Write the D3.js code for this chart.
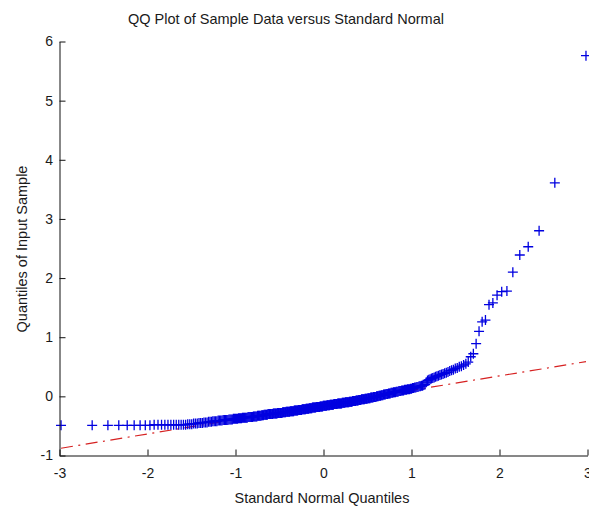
<!DOCTYPE html>
<html>
<head>
<meta charset="utf-8">
<script src="https://cdn.jsdelivr.net/npm/d3@7"></script>
<style>
  body { margin: 0; background: #fff; }
  text { font-family: "Liberation Sans", Arial, sans-serif; }
</style>
</head>
<body>
<svg width="589" height="510"></svg>
<script>
// sorted sample values (350 points)
var sample = [
  -0.49, -0.49, -0.49, -0.49, -0.49, -0.49, -0.49,
  -0.49, -0.49, -0.48, -0.48, -0.48,
  -0.48, -0.48, -0.48, -0.48, -0.48, -0.48, -0.48, -0.48,
  -0.48, -0.47, -0.47, -0.47,
  -0.46, -0.46, -0.46, -0.45, -0.45,
  -0.45, -0.44, -0.44, -0.44, -0.43,
  -0.43, -0.43, -0.42, -0.42, -0.42, -0.42, -0.41,
  -0.41, -0.41, -0.41, -0.40, -0.40, -0.40, -0.40,
  -0.40, -0.39, -0.39, -0.39, -0.39, -0.38, -0.38, -0.38,
  -0.38, -0.38, -0.37, -0.37, -0.37, -0.37, -0.36, -0.36, -0.36,
  -0.36, -0.36, -0.36, -0.35, -0.35, -0.35, -0.35, -0.35, -0.35, -0.34,
  -0.34, -0.34, -0.34, -0.34, -0.33, -0.33, -0.33, -0.33, -0.33, -0.32,
  -0.32, -0.32, -0.31, -0.31, -0.31, -0.31, -0.31, -0.30, -0.30, -0.30, -0.30,
  -0.30, -0.30, -0.30, -0.29, -0.29, -0.29, -0.29, -0.29, -0.29, -0.28, -0.28, -0.28,
  -0.28, -0.28, -0.28, -0.28, -0.27, -0.27, -0.27, -0.27, -0.27, -0.26, -0.26, -0.26, -0.26,
  -0.26, -0.26, -0.25, -0.25, -0.25, -0.25, -0.25, -0.25, -0.24, -0.24, -0.24, -0.24, -0.24,
  -0.24, -0.23, -0.23, -0.23, -0.23, -0.23, -0.23, -0.22, -0.22, -0.22, -0.22, -0.22, -0.22,
  -0.21, -0.21, -0.21, -0.21, -0.21, -0.20, -0.20, -0.20, -0.20, -0.20, -0.19, -0.19, -0.19, -0.19,
  -0.19, -0.19, -0.18, -0.18, -0.18, -0.18, -0.18, -0.18, -0.17, -0.17, -0.17, -0.17, -0.17, -0.16,
  -0.16, -0.16, -0.16, -0.16, -0.16, -0.15, -0.15, -0.15, -0.15, -0.15, -0.14, -0.14, -0.14, -0.14,
  -0.14, -0.14, -0.13, -0.13, -0.13, -0.13, -0.13, -0.13, -0.12, -0.12, -0.12, -0.12, -0.12, -0.12,
  -0.12, -0.11, -0.11, -0.11, -0.11, -0.11, -0.10, -0.10, -0.10, -0.10, -0.10, -0.10, -0.09,
  -0.09, -0.09, -0.09, -0.09, -0.08, -0.08, -0.08, -0.08, -0.08, -0.07, -0.07, -0.07, -0.07,
  -0.06, -0.06, -0.06, -0.06, -0.05, -0.05, -0.05, -0.05, -0.05, -0.04, -0.04, -0.04, -0.04,
  -0.03, -0.03, -0.03, -0.03, -0.02, -0.02, -0.02, -0.02, -0.01, -0.01, -0.01, -0.01,
  0.00, 0.00, 0.00, 0.01, 0.01, 0.01, 0.02, 0.02, 0.02, 0.03, 0.03,
  0.03, 0.04, 0.04, 0.04, 0.05, 0.05, 0.05, 0.06, 0.06, 0.06, 0.07,
  0.07, 0.07, 0.08, 0.08, 0.08, 0.09, 0.09, 0.09, 0.10, 0.10,
  0.10, 0.11, 0.11, 0.11, 0.12, 0.12, 0.12, 0.13, 0.13,
  0.14, 0.14, 0.15, 0.15, 0.16, 0.16, 0.17, 0.17,
  0.18, 0.18, 0.19, 0.20,
  0.24, 0.27, 0.28,
  0.29, 0.30, 0.31, 0.32, 0.33, 0.34,
  0.35, 0.36, 0.37, 0.38, 0.39, 0.40,
  0.41, 0.43, 0.44, 0.45, 0.47,
  0.48, 0.50, 0.51, 0.53, 0.55,
  0.58, 0.67, 0.72, 0.89, 1.10, 1.26, 1.29, 1.55, 1.58,
  1.71, 1.77, 1.78, 2.10, 2.39, 2.53, 2.80, 3.61, 5.76
];

var xTicks = [-3, -2, -1, 0, 1, 2, 3];
var yTicks = [-1, 0, 1, 2, 3, 4, 5, 6];

var titleText = "QQ Plot of Sample Data versus Standard Normal",
    xLabel = "Standard Normal Quantiles",
    yLabel = "Quantiles of Input Sample";

// inverse standard normal cdf (Acklam), gives the theoretical quantiles
function norminv(p) {
  var a = [-3.969683028665376e+01, 2.209460984245205e+02, -2.759285104469687e+02, 1.383577518672690e+02, -3.066479806614716e+01, 2.506628277459239e+00],
      b = [-5.447609879822406e+01, 1.615858368580409e+02, -1.556989798598866e+02, 6.680131188771972e+01, -1.328068155288572e+01],
      c = [-7.784894002430293e-03, -3.223964580411365e-01, -2.400758277161838e+00, -2.549732539343734e+00, 4.374664141464968e+00, 2.938163982698783e+00],
      d = [7.784695709041462e-03, 3.224671290700398e-01, 2.445134137142996e+00, 3.754408661907416e+00];
  var q, r, plow = 0.02425;
  if (p < plow) {
    q = Math.sqrt(-2 * Math.log(p));
    return (((((c[0]*q + c[1])*q + c[2])*q + c[3])*q + c[4])*q + c[5]) / ((((d[0]*q + d[1])*q + d[2])*q + d[3])*q + 1);
  }
  if (p > 1 - plow) {
    q = Math.sqrt(-2 * Math.log(1 - p));
    return -(((((c[0]*q + c[1])*q + c[2])*q + c[3])*q + c[4])*q + c[5]) / ((((d[0]*q + d[1])*q + d[2])*q + d[3])*q + 1);
  }
  q = p - 0.5; r = q * q;
  return (((((a[0]*r + a[1])*r + a[2])*r + a[3])*r + a[4])*r + a[5])*q / (((((b[0]*r + b[1])*r + b[2])*r + b[3])*r + b[4])*r + 1);
}

var n = sample.length;
var points = sample.map(function(v, i) {
  return { x: norminv((i + 0.5) / n), y: v };
});

var svg = d3.select("svg");

var xScale = d3.scaleLinear().domain([-3, 3]).range([59.5, 587.5]),
    yScale = d3.scaleLinear().domain([-1, 6]).range([455.5, 41.5]);

// reference line through 1st and 3rd quartiles, extended to the data range
var xs = points.map(function(d) { return d.x; });
var xq1 = d3.quantile(xs, 0.25), xq3 = d3.quantile(xs, 0.75),
    yq1 = d3.quantile(sample, 0.25), yq3 = d3.quantile(sample, 0.75);
var slope = (yq3 - yq1) / (xq3 - xq1);
var xmin = d3.min(xs), xmax = d3.max(xs);
var refLine = [
  { x: xmin, y: yq1 + slope * (xmin - xq1) },
  { x: xmax, y: yq1 + slope * (xmax - xq1) }
];

svg.append("path")
   .datum(refLine)
   .attr("fill", "none")
   .attr("stroke", "#d62222")
   .attr("stroke-width", 1.2)
   .attr("stroke-dasharray", "12,5.5,2,5.5")
   .attr("d", d3.line().x(function(d) { return xScale(d.x); }).y(function(d) { return yScale(d.y); }));

// plus markers
svg.append("g")
   .selectAll("path")
   .data(points)
   .enter().append("path")
   .attr("fill", "none")
   .attr("stroke", "#0000e0")
   .attr("stroke-width", 1.3)
   .attr("d", function(d) {
     var cx = xScale(d.x), cy = yScale(d.y), s = 5;
     return "M" + (cx - s) + "," + cy + "H" + (cx + s) + "M" + cx + "," + (cy - s) + "V" + (cy + s);
   });

// plain hyphen minus like the original
var tickFmt = function(d) { return String(d); };

// axes, ticks pointing inward
var gx = svg.append("g")
   .attr("transform", "translate(0," + 455.5 + ")")
   .call(d3.axisBottom(xScale).tickValues(xTicks).tickFormat(tickFmt).tickSizeInner(-6).tickSizeOuter(0).tickPadding(12.5));

var gy = svg.append("g")
   .attr("transform", "translate(" + 59.5 + ",0)")
   .call(d3.axisLeft(yScale).tickValues(yTicks).tickFormat(tickFmt).tickSizeInner(-6).tickSizeOuter(0).tickPadding(6.5));

[gx, gy].forEach(function(g) {
  g.selectAll("text")
   .attr("font-family", "Liberation Sans, Arial, sans-serif")
   .attr("font-size", "14px")
   .attr("fill", "#1a1a1a");
  g.selectAll("line, path").attr("stroke", "#111");
});

svg.append("text")
   .attr("x", 286)
   .attr("y", 24)
   .attr("text-anchor", "middle")
   .attr("font-size", "14.5px")
   .attr("fill", "#1a1a1a")
   .text(titleText);

svg.append("text")
   .attr("x", 322)
   .attr("y", 503)
   .attr("text-anchor", "middle")
   .attr("font-size", "14.5px")
   .attr("fill", "#1a1a1a")
   .text(xLabel);

svg.append("text")
   .attr("transform", "translate(27,249) rotate(-90)")
   .attr("text-anchor", "middle")
   .attr("font-size", "14.5px")
   .attr("fill", "#1a1a1a")
   .text(yLabel);
</script>
</body>
</html>
